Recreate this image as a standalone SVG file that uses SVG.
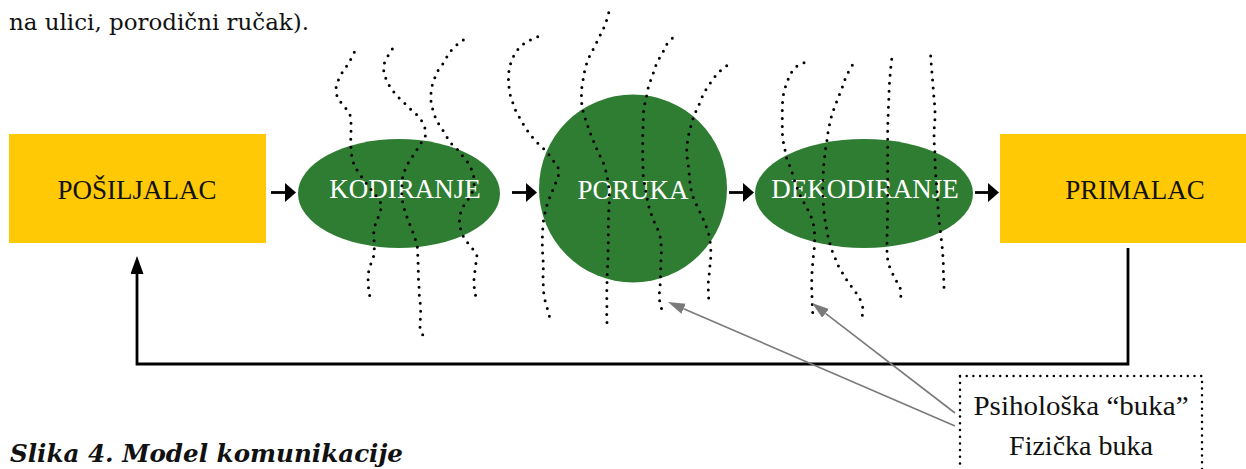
<svg xmlns="http://www.w3.org/2000/svg" width="1246" height="469" viewBox="0 0 1246 469">
<style>
.box{fill:#FFCA05;}
.oval{fill:#2E7D32;}
.lbl{font-family:"Liberation Serif","Times New Roman",serif;font-size:27px;text-anchor:middle;}
.dk{fill:#111;}
.wt{fill:#fff;}
.noise{fill:none;stroke:#000;stroke-width:3;stroke-linecap:round;stroke-linejoin:round;stroke-dasharray:0 8;}
.conn{fill:none;stroke:#000;stroke-width:2.8;}
.gray{fill:none;stroke:#7a7a7a;stroke-width:1.6;}
.note{font-family:"Liberation Serif","Times New Roman",serif;font-size:28px;text-anchor:middle;fill:#111;}
</style>
<defs>
<marker id="ah" markerUnits="userSpaceOnUse" markerWidth="12" markerHeight="20" refX="0" refY="9.5" orient="auto">
<path d="M0,0 L11,9.5 L0,19 z" fill="#000"/>
</marker>
<marker id="ahUp" markerUnits="userSpaceOnUse" markerWidth="19" markerHeight="14" refX="0" refY="6.5" orient="auto">
<path d="M0,0 L18,6.5 L0,13 z" fill="#000"/>
</marker>
<marker id="ahGray" markerUnits="userSpaceOnUse" markerWidth="18" markerHeight="12" refX="0" refY="5.5" orient="auto">
<path d="M0,0 L17,5.5 L0,11 z" fill="#7a7a7a"/>
</marker>
</defs>
<rect width="1246" height="469" fill="#fff"/>
<text x="9" y="30" font-family="DejaVu Serif, serif" font-size="22.5" fill="#111" textLength="300" lengthAdjust="spacingAndGlyphs">na ulici, porodični ručak).</text>

<g id="posiljalac">
<rect class="box" x="9" y="134" width="257" height="109"/>
<text class="lbl dk" x="137" y="199">POŠILJALAC</text>
</g>
<g id="kodiranje">
<ellipse class="oval" cx="399" cy="193.5" rx="101" ry="54.5"/>
<text class="lbl wt" x="405" y="198">KODIRANJE</text>
</g>
<g id="poruka">
<circle class="oval" cx="633" cy="188.5" r="94"/>
<text class="lbl wt" x="633" y="199">PORUKA</text>
</g>
<g id="dekodiranje">
<ellipse class="oval" cx="864" cy="193.5" rx="109" ry="54.5"/>
<text class="lbl wt" x="865" y="198">DEKODIRANJE</text>
</g>
<g id="primalac">
<rect class="box" x="1000" y="134" width="246" height="109"/>
<text class="lbl dk" x="1135" y="199">PRIMALAC</text>
</g>

<g id="noise">
<polyline class="noise" points="354.3,52.3 348.7,63.3 343.3,70.7 339.3,77.7 336,86 336.7,95 340.3,101.7 345.7,108.3 350,114.7 351,123.3 351,132.3 350.7,141 351,148.7 352,158 354.7,166.7 359.7,174 364.3,180.7 373.3,192.7 378.7,199 382,205.7 379,215.3 375.3,224.3 373.7,231.7 374,239.3 374.3,248.3 374.3,254.3 371.7,261.7 369,269 368,276.7 368.3,286.3 369.7,295.7"/>
<polyline class="noise" points="392.3,49 386,59 383.3,66 384,73.3 386.7,81 390.7,88 395.3,94 400.3,99.3 405.3,104 410.7,109.3 417,115 422,121.3 425.3,129 425.3,136 421.3,142.7 414,154.3 409.3,161.3 405.7,168 402.7,175.7 402,184 401.7,193 402.3,200 403.7,207.3 406.3,215.3 409.3,223.3 412.7,231.7 415.3,239.3 417.3,246.7 417.7,254 418,261.3 418.3,268.7 418.3,277.3 419,286.3 419.3,295.3 420.3,304 420.7,312 420.3,320 420,327.7 422.7,334.7"/>
<polyline class="noise" points="463.3,40 456.7,45 451,50.7 446.7,57.3 443.3,63.3 438.3,70 435,77.3 432.3,85 431,93.3 431,101.7 432.7,109.3 435.3,117.3 438.7,124 442.3,129.3 446.7,136.7 451,143.3 457,148.7 462.3,155.7 467.3,161.7 471.3,169 473.7,176.7 474.3,183.3 473.3,190 470,196.7 464.7,204 461,211 459.3,218.3 459.7,224.7 461.3,232.7 465.3,239.7 470,246 474.3,250.7 477.3,256.7 476,262.7 475.3,269 474,276.7 474,285 475,293.3 476.7,300"/>
<polyline class="noise" points="537.7,36.7 527.3,41.3 520,46.7 515,53.3 511.7,60 509.3,68 508.3,76.7 508.7,83.3 509.3,90.7 511,98.3 513.3,104 516,111.7 520.3,119 525,127.3 530,134.3 536,141.7 541.7,146.7 546.7,152 552,158.3 555.3,164 559,169 558.3,176 555.3,184 551.7,192.7 549.3,198.7 546.7,206 545,212.7 543.3,221.7 542.7,230 542.3,239.3 542.3,246.7 542.7,255 543.3,263.3 543.3,270 543,278 543.3,286 543.7,292.7 545.3,301.7 548.3,311.7 550.7,321.7"/>
<polyline class="noise" points="608.7,12.7 606.7,20 604,27.3 600,35.7 596.7,42.3 593.3,49 589.3,56.7 586.7,63.3 584.7,70.7 583.3,78.7 582,85 581.7,90 581.3,98.3 582,106.7 584,115 586.7,122.7 589.3,130.7 592.3,138 595.7,146.7 600,156 603.3,162.7 606.7,174 608.3,182.7 609.3,192.3 609.3,201.7 608.7,212.3 608.3,221.7 608.3,231.7 608.3,242.3 608,252.3 608,261.7 607.3,270 607,280 607,286 606.7,294.3 607,303.3 606.7,312.7 607,324"/>
<polyline class="noise" points="672.3,38.3 666.7,44.3 662.7,52.7 658.3,60 654.7,68 652.3,76.7 649.3,83.3 647.3,91.7 646,99.3 644,106.7 643.3,115 643.3,124.3 642.7,132.7 642.7,141.7 642.7,150 642.7,158.3 643,166.7 643.3,176.7 645,186.7 647.3,200 649.3,208.3 653.3,220 657.3,228.3 660,236 661.3,246.7 661.3,256.7 660.7,263.3 660.7,271.7 660.3,280 660,288.3 659,296 660,303.3 661.7,309.3"/>
<polyline class="noise" points="726.7,65.7 720,71 714,77.7 709,85 705,91 701,99.3 698,107.3 694,115 691.7,123.3 689.3,131.7 687.7,140 686.7,148.3 687,156.7 688.3,165.7 689.3,175 690,183.3 691.7,193.3 695,201.7 698.3,208.3 701.7,216 705,223.3 708.3,232.3 710,240 710.7,248.3 711,255 710,265 709.3,273.3 708.3,281.7 708.3,290 708.7,298.3"/>
<polyline class="noise" points="804,62.7 796,66.7 790,74.3 786.7,83.3 784,91 782.7,100 782.3,108.3 782.3,116.7 782.3,125 782.3,133.3 783.3,141.7 785,150 786.7,158.3 789.3,165 791.7,171 794,179.3 796.7,186.7 800,195 804.3,203.3 808.3,210.7 811.7,218.3 814,226.7 814.7,235 814.7,243.3 814,251.7 813.3,256.7 812.7,264 812,272.7 811.7,280 811.7,288.3 812,296.7 812.3,305 812.7,311.7 812.7,318.3"/>
<polyline class="noise" points="852.3,65.3 847.7,73.3 844.3,81 841.7,89.3 838.3,97.3 835,106 832,114 830,122.7 828.3,130 827.3,138.3 826,146 825,153.3 824.3,160.7 823.3,168.3 823.3,176.7 822.7,185 822.7,194 823.3,203.3 824,211.7 825,220 826.3,227.3 827.7,235 830,244 832.7,252.7 836,260 839.3,268.3 842.7,273.3 846,279 851,286 856,292.7 860,299.3 862.7,306.7 862.3,314 862.7,321.7"/>
<polyline class="noise" points="891.7,59.3 890.7,68.3 890,76.7 889.3,85 889,93.3 888.7,101.7 888.3,110 888,119.3 887.7,127.3 887.7,136 887.7,144 887.7,152.7 887.7,161.7 887.7,170 887.7,178.3 887.7,186.7 887.7,195 887.7,203.3 887.7,211.7 887.3,220 887.3,228.3 887,236.7 887,244 887,251.7 887.7,260 890,268.3 893.3,275 897.3,282.7 901,290 900.7,301.7"/>
<polyline class="noise" points="930.7,56 931.3,65 932,73.3 932.7,81.7 933.3,90 934,98.3 935,109.3 935,118.3 934.3,127.3 934,136.7 934.3,145 935,153.3 935,161.7 935.3,170 936,178.3 936.7,186.7 937.3,195 937.7,203.3 938.3,211.7 939,220 940,228.3 941,236.7 942,245 942.7,253.3 943.3,261.7 943.3,270 943.7,278.3 944,286.7 944,295"/>
</g>

<g id="connectors">
<line class="conn" x1="271" y1="192.5" x2="285" y2="192.5" marker-end="url(#ah)"/>
<line class="conn" x1="512" y1="192.5" x2="526" y2="192.5" marker-end="url(#ah)"/>
<line class="conn" x1="729" y1="192.5" x2="743" y2="192.5" marker-end="url(#ah)"/>
<line class="conn" x1="975" y1="192.5" x2="988" y2="192.5" marker-end="url(#ah)"/>
<path class="conn" d="M1128,248 V364 H137 V274" marker-end="url(#ahUp)"/>
<line class="gray" x1="955" y1="413" x2="825.5" y2="313.4" marker-end="url(#ahGray)"/>
<line class="gray" x1="955" y1="426" x2="683.6" y2="308.7" marker-end="url(#ahGray)"/>
</g>

<g id="noise-label">
<rect x="960" y="376" width="242" height="120" fill="none" stroke="#000" stroke-width="2.5" stroke-linecap="round" stroke-dasharray="0 6.7"/>
<text class="note" x="1081" y="415" textLength="215" lengthAdjust="spacingAndGlyphs">Psihološka “buka”</text>
<text class="note" x="1081" y="455">Fizička buka</text>
</g>

<text x="10" y="462" font-family="DejaVu Serif, serif" font-size="25" font-weight="bold" font-style="italic" fill="#111" textLength="393" lengthAdjust="spacingAndGlyphs">Slika 4. Model komunikacije</text>
</svg>
